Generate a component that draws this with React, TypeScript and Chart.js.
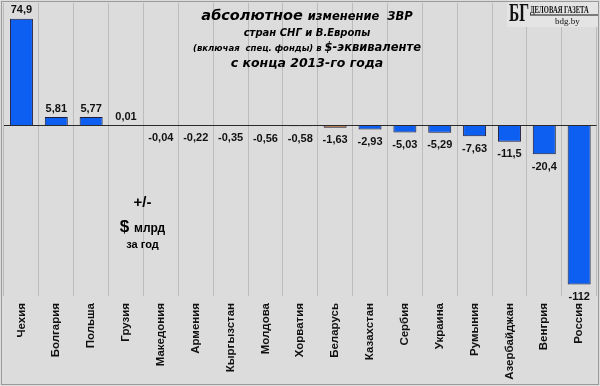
import React, { useEffect, useRef } from 'react';
import { Chart, registerables } from 'chart.js';

Chart.register(...registerables);

const categories = ['Чехия', 'Болгария', 'Польша', 'Грузия', 'Македония', 'Армения', 'Кыргызстан', 'Молдова', 'Хорватия', 'Беларусь', 'Казахстан', 'Сербия', 'Украина', 'Румыния', 'Азербайджан', 'Венгрия', 'Россия'];
const values = [74.9, 5.81, 5.77, 0.01, -0.04, -0.22, -0.35, -0.56, -0.58, -1.63, -2.93, -5.03, -5.29, -7.63, -11.5, -20.4, -112];
const valueLabels = ['74,9', '5,81', '5,77', '0,01', '-0,04', '-0,22', '-0,35', '-0,56', '-0,58', '-1,63', '-2,93', '-5,03', '-5,29', '-7,63', '-11,5', '-20,4', '-112'];
const highlighted = ['Беларусь'];
const titleLines = [
  [['абсолютное ', 'bold italic 14.5px "DejaVu Sans"'], ['изменение  ЗВР', 'bold italic 11.5px "DejaVu Sans"']],
  [['стран СНГ и В.Европы', 'bold italic 10px "DejaVu Sans"']],
  [['(включая  спец. фонды) в ', 'bold italic 8.5px "DejaVu Sans"'], ['$-эквиваленте', 'bold italic 11.5px "DejaVu Sans"']],
  [['с конца 2013-го года', 'bold italic 12.5px "DejaVu Sans"']],
];
const unitLines = [
  [['+/-', 'bold 15px "Liberation Sans"']],
  [['$ ', 'bold 17px "Liberation Sans"'], ['млрд', 'bold 12px "Liberation Sans"']],
  [['за год', 'bold 11px "Liberation Sans"']],
];

function drawRich(ctx: CanvasRenderingContext2D, segs: string[][], cx: number, y: number) {
  let total = 0;
  const widths = segs.map(([t, f]) => {
    ctx.font = f;
    const w = ctx.measureText(t).width;
    total += w;
    return w;
  });
  let x = cx - total / 2;
  ctx.textAlign = 'left';
  ctx.textBaseline = 'alphabetic';
  segs.forEach(([t, f], i) => {
    ctx.font = f;
    ctx.fillText(t, x, y);
    x += widths[i];
  });
}

const decor = {
  id: 'decor',
  beforeDraw(chart: any) {
    const { ctx, width, height } = chart;
    ctx.save();
    ctx.fillStyle = '#dcdcdc';
    ctx.fillRect(0, 0, width, height);
    ctx.restore();
  },
  afterDatasetsDraw(chart: any) {
    const { ctx, chartArea } = chart;
    const yScale = chart.scales.y;
    const y0 = Math.round(yScale.getPixelForValue(0)) + 0.5;
    ctx.save();
    // zero line
    ctx.strokeStyle = '#2a2a2a';
    ctx.lineWidth = 1;
    ctx.beginPath();
    ctx.moveTo(chartArea.left, y0);
    ctx.lineTo(chartArea.right, y0);
    ctx.stroke();
    // value labels
    const meta = chart.getDatasetMeta(0);
    ctx.fillStyle = '#111';
    ctx.font = 'bold 11px "Liberation Sans"';
    ctx.textAlign = 'center';
    meta.data.forEach((bar: any, i: number) => {
      const v = values[i];
      if (v >= 0) {
        ctx.textBaseline = 'bottom';
        ctx.fillText(valueLabels[i], bar.x, Math.min(bar.y, y0) - 3);
      } else {
        ctx.textBaseline = 'top';
        ctx.fillText(valueLabels[i], bar.x, Math.max(bar.y, y0) + 7);
      }
    });
    // title
    ctx.fillStyle = '#000';
    const tys = [19.5, 36, 51, 67];
    titleLines.forEach((l, i) => drawRich(ctx, l as any, 307, tys[i]));
    // unit text
    const uys = [207, 232, 248];
    unitLines.forEach((l, i) => drawRich(ctx, l as any, 142.5, uys[i]));
    // logo
    ctx.fillStyle = '#e4e4e4';
    ctx.fillRect(507, 2, 91, 25);
    ctx.fillStyle = '#111';
    ctx.textAlign = 'left';
    ctx.textBaseline = 'alphabetic';
    ctx.save();
    ctx.translate(509, 21);
    ctx.scale(0.62, 1);
    ctx.font = 'bold 25px "Liberation Serif"';
    ctx.fillText('БГ', 0, 0);
    ctx.restore();
    ctx.save();
    ctx.translate(530, 13);
    ctx.scale(0.6, 1);
    ctx.font = 'bold 11px "Liberation Serif"';
    ctx.fillText('ДЕЛОВАЯ ГАЗЕТА', 0, 0);
    ctx.restore();
    ctx.fillRect(530, 14.5, 68, 1);
    ctx.font = '9px "Liberation Serif"';
    ctx.fillText('bdg.by', 555, 24);
    // frame
    ctx.strokeStyle = '#9a9a9a';
    ctx.lineWidth = 1;
    ctx.strokeRect(1.5, 1.5, chart.width - 3, chart.height - 3);
    ctx.restore();
  },
};

export default function App() {
  const ref = useRef<HTMLCanvasElement>(null);
  useEffect(() => {
    document.body.style.margin = '0';
    const colors = categories.map((c) => (highlighted.includes(c) ? '#b5712f' : '#0d5ff2'));
    const chart = new Chart(ref.current!, {
      type: 'bar',
      data: {
        labels: categories,
        datasets: [
          {
            data: values,
            backgroundColor: colors,
            borderColor: '#1c1c3a',
            borderWidth: 1,
            categoryPercentage: 1,
            barPercentage: 0.66,
          },
        ],
      },
      options: {
        responsive: false,
        animation: false,
        layout: { padding: { top: 3, left: 4, right: 1, bottom: 0 } },
        plugins: { legend: { display: false }, tooltip: { enabled: false }, title: { display: false } },
        scales: {
          x: {
            grid: { display: true, offset: true, color: '#bcbcbc', lineWidth: 1, drawTicks: false },
            border: { display: false },
            ticks: {
              maxRotation: 90,
              minRotation: 90,
              autoSkip: false,
              padding: 7,
              color: '#111',
              font: { family: 'Liberation Sans', weight: 'bold', size: 11.5 },
            },
            afterFit: (s: any) => {
              s.height = 90;
            },
          },
          y: { display: false, min: -120, max: 86 },
        },
      },
      plugins: [decor],
    });
    return () => chart.destroy();
  }, []);
  return <canvas ref={ref} width={600} height={386} style={{ display: 'block' }} />;
}
